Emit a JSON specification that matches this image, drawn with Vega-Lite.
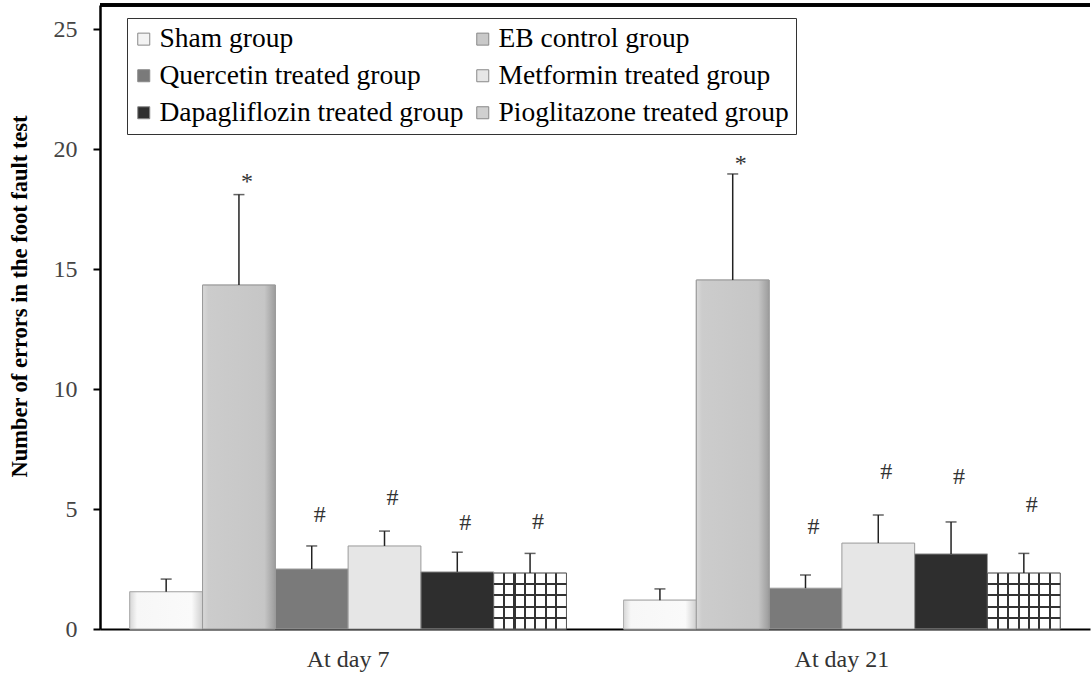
{
  "$schema": "https://vega.github.io/schema/vega-lite/v6.json",
  "width": 990,
  "height": 624,
  "autosize": {"type": "none"},
  "padding": {"left": 100, "top": 5, "right": 1, "bottom": 46},
  "background": "white",
  "config": {"view": {"stroke": null}, "font": "Liberation Serif",
    "style": {"guide-label": {"font": "Liberation Serif"}, "guide-title": {"font": "Liberation Serif"}},
    "legend": {"labelFont": "Liberation Serif"}, "axis": {"labelFont": "Liberation Serif", "titleFont": "Liberation Serif"}},
  "data": {
    "values": [
      {"day": "At day 7", "group": "Sham group", "mean": 1.55, "upper": 2.08, "sig": "", "sig_y": null},
      {"day": "At day 7", "group": "EB control group", "mean": 14.33, "upper": 18.1, "sig": "*", "sig_y": 18.62},
      {"day": "At day 7", "group": "Quercetin treated group", "mean": 2.5, "upper": 3.46, "sig": "#", "sig_y": 4.75},
      {"day": "At day 7", "group": "Metformin treated group", "mean": 3.46, "upper": 4.08, "sig": "#", "sig_y": 5.46},
      {"day": "At day 7", "group": "Dapagliflozin treated group", "mean": 2.38, "upper": 3.2, "sig": "#", "sig_y": 4.42},
      {"day": "At day 7", "group": "Pioglitazone treated group", "mean": 2.33, "upper": 3.15, "sig": "#", "sig_y": 4.46},
      {"day": "At day 21", "group": "Sham group", "mean": 1.2, "upper": 1.67, "sig": "", "sig_y": null},
      {"day": "At day 21", "group": "EB control group", "mean": 14.54, "upper": 18.96, "sig": "*", "sig_y": 19.38},
      {"day": "At day 21", "group": "Quercetin treated group", "mean": 1.7, "upper": 2.25, "sig": "#", "sig_y": 4.25},
      {"day": "At day 21", "group": "Metformin treated group", "mean": 3.58, "upper": 4.75, "sig": "#", "sig_y": 6.54},
      {"day": "At day 21", "group": "Dapagliflozin treated group", "mean": 3.13, "upper": 4.46, "sig": "#", "sig_y": 6.33},
      {"day": "At day 21", "group": "Pioglitazone treated group", "mean": 2.33, "upper": 3.15, "sig": "#", "sig_y": 5.17}
    ]
  },
  "layer": [
    {
      "mark": {"type": "bar", "stroke": "#9a9a9a", "strokeWidth": 1},
      "encoding": {
        "x": {"field": "day", "type": "nominal", "sort": ["At day 7", "At day 21"],
          "scale": {"paddingInner": 0.1156, "paddingOuter": 0.0603},
          "axis": {"title": null, "labelAngle": 0, "labelFont": "Liberation Serif", "labelFontSize": 24, "labelColor": "#333333", "ticks": false, "labelPadding": 18, "domainColor": "black", "domainWidth": 2}},
        "xOffset": {"field": "group", "type": "nominal",
          "sort": ["Sham group", "EB control group", "Quercetin treated group", "Metformin treated group", "Dapagliflozin treated group", "Pioglitazone treated group"],
          "scale": {"paddingInner": 0, "paddingOuter": 0}},
        "y": {"field": "mean", "type": "quantitative", "title": "Number of errors in the foot fault test",
          "scale": {"domain": [0, 26], "nice": false},
          "axis": {"values": [0, 5, 10, 15, 20, 25], "grid": false, "tickSize": 7, "tickWidth": 2, "tickColor": "black",
            "domainColor": "black", "domainWidth": 2.5, "labelFont": "Liberation Serif", "labelFontSize": 24, "labelColor": "#444444",
            "labelPadding": 16, "titleFont": "Liberation Serif", "titleFontWeight": "bold", "titleFontSize": 22.5, "titleColor": "black",
            "titleX": -69, "titleY": 291}},
        "color": {"field": "group", "type": "nominal",
          "scale": {"domain": ["Sham group", "Quercetin treated group", "Dapagliflozin treated group", "EB control group", "Metformin treated group", "Pioglitazone treated group"],
            "range": ["#f3f3f3", "#7a7a7a", "#2e2e2e", "#c9c9c9", "#e6e6e6", "#d0d0d0"]},
          "legend": {"title": null, "orient": "none", "legendX": 27, "legendY": 13, "columns": 2, "strokeColor": "#333333",
            "fillColor": "white", "padding": 7, "symbolType": "square", "symbolSize": 144, "symbolOffset": -4, "symbolStrokeColor": "#888888", "symbolStrokeWidth": 1,
            "labelFont": "Liberation Serif", "labelFontSize": 27.5, "labelColor": "black", "labelLimit": 500, "rowPadding": 8, "columnPadding": 9, "labelOffset": 2,
            "encode": {"labels": {"update": {"font": {"value": "Liberation Serif"}}}}}}
      }
    },
    {
      "transform": [{"filter": "datum.group === 'Sham group'"}],
      "mark": {"type": "bar", "stroke": "#b0b0b0", "strokeWidth": 1,
        "color": {"gradient": "linear", "x1": 0, "y1": 0, "x2": 1, "y2": 0, "stops": [
          {"offset": 0, "color": "#d6d6d6"}, {"offset": 0.1, "color": "#f7f7f7"}, {"offset": 0.85, "color": "#fafafa"}, {"offset": 1, "color": "#cfcfcf"}]}},
      "encoding": {
        "x": {"field": "day", "type": "nominal", "sort": ["At day 7", "At day 21"]},
        "xOffset": {"field": "group", "type": "nominal", "sort": ["Sham group", "EB control group", "Quercetin treated group", "Metformin treated group", "Dapagliflozin treated group", "Pioglitazone treated group"]},
        "y": {"field": "mean", "type": "quantitative", "title": "Number of errors in the foot fault test"}
      }
    },
    {
      "transform": [{"filter": "datum.group === 'EB control group'"}],
      "mark": {"type": "bar", "stroke": "#9a9a9a", "strokeWidth": 1,
        "color": {"gradient": "linear", "x1": 0, "y1": 0, "x2": 1, "y2": 0, "stops": [
          {"offset": 0, "color": "#d9d9d9"}, {"offset": 0.08, "color": "#cccccc"}, {"offset": 0.85, "color": "#c6c6c6"}, {"offset": 1, "color": "#9c9c9c"}]}},
      "encoding": {
        "x": {"field": "day", "type": "nominal", "sort": ["At day 7", "At day 21"]},
        "xOffset": {"field": "group", "type": "nominal", "sort": ["Sham group", "EB control group", "Quercetin treated group", "Metformin treated group", "Dapagliflozin treated group", "Pioglitazone treated group"]},
        "y": {"field": "mean", "type": "quantitative", "title": "Number of errors in the foot fault test"}
      }
    },
    {
      "transform": [{"filter": "datum.group === 'Pioglitazone treated group'"}],
      "mark": {"type": "bar", "stroke": "#555555", "strokeWidth": 1,
        "color": {"gradient": "linear", "x1": 0, "y1": 0, "x2": 1, "y2": 0, "stops": [
          {"offset": 0, "color": "#ffffff"},
          {"offset": 0.129, "color": "#ffffff"}, {"offset": 0.129, "color": "#333333"}, {"offset": 0.157, "color": "#333333"}, {"offset": 0.157, "color": "#ffffff"},
          {"offset": 0.272, "color": "#ffffff"}, {"offset": 0.272, "color": "#333333"}, {"offset": 0.300, "color": "#333333"}, {"offset": 0.300, "color": "#ffffff"},
          {"offset": 0.415, "color": "#ffffff"}, {"offset": 0.415, "color": "#333333"}, {"offset": 0.443, "color": "#333333"}, {"offset": 0.443, "color": "#ffffff"},
          {"offset": 0.557, "color": "#ffffff"}, {"offset": 0.557, "color": "#333333"}, {"offset": 0.585, "color": "#333333"}, {"offset": 0.585, "color": "#ffffff"},
          {"offset": 0.700, "color": "#ffffff"}, {"offset": 0.700, "color": "#333333"}, {"offset": 0.728, "color": "#333333"}, {"offset": 0.728, "color": "#ffffff"},
          {"offset": 0.843, "color": "#ffffff"}, {"offset": 0.843, "color": "#333333"}, {"offset": 0.871, "color": "#333333"}, {"offset": 0.871, "color": "#ffffff"},
          {"offset": 1, "color": "#ffffff"}]}},
      "encoding": {
        "x": {"field": "day", "type": "nominal", "sort": ["At day 7", "At day 21"]},
        "xOffset": {"field": "group", "type": "nominal", "sort": ["Sham group", "EB control group", "Quercetin treated group", "Metformin treated group", "Dapagliflozin treated group", "Pioglitazone treated group"]},
        "y": {"field": "mean", "type": "quantitative", "title": "Number of errors in the foot fault test"}
      }
    },
    {
      "transform": [{"filter": "datum.group === 'Pioglitazone treated group'"}],
      "mark": {"type": "bar", "strokeWidth": 0,
        "color": {"gradient": "linear", "x1": 0, "y1": 0, "x2": 0, "y2": 1, "stops": [
          {"offset": 0, "color": "rgba(0,0,0,0)"},
          {"offset": 0.182, "color": "rgba(0,0,0,0)"}, {"offset": 0.182, "color": "#333333"}, {"offset": 0.218, "color": "#333333"}, {"offset": 0.218, "color": "rgba(0,0,0,0)"},
          {"offset": 0.382, "color": "rgba(0,0,0,0)"}, {"offset": 0.382, "color": "#333333"}, {"offset": 0.418, "color": "#333333"}, {"offset": 0.418, "color": "rgba(0,0,0,0)"},
          {"offset": 0.582, "color": "rgba(0,0,0,0)"}, {"offset": 0.582, "color": "#333333"}, {"offset": 0.618, "color": "#333333"}, {"offset": 0.618, "color": "rgba(0,0,0,0)"},
          {"offset": 0.782, "color": "rgba(0,0,0,0)"}, {"offset": 0.782, "color": "#333333"}, {"offset": 0.818, "color": "#333333"}, {"offset": 0.818, "color": "rgba(0,0,0,0)"},
          {"offset": 1, "color": "rgba(0,0,0,0)"}]}},
      "encoding": {
        "x": {"field": "day", "type": "nominal", "sort": ["At day 7", "At day 21"]},
        "xOffset": {"field": "group", "type": "nominal", "sort": ["Sham group", "EB control group", "Quercetin treated group", "Metformin treated group", "Dapagliflozin treated group", "Pioglitazone treated group"]},
        "y": {"field": "mean", "type": "quantitative", "title": "Number of errors in the foot fault test"}
      }
    },
    {
      "mark": {"type": "rule", "color": "#222222", "strokeWidth": 1.5},
      "encoding": {
        "x": {"field": "day", "type": "nominal", "sort": ["At day 7", "At day 21"]},
        "xOffset": {"field": "group", "type": "nominal", "sort": ["Sham group", "EB control group", "Quercetin treated group", "Metformin treated group", "Dapagliflozin treated group", "Pioglitazone treated group"]},
        "y": {"field": "mean", "type": "quantitative", "title": "Number of errors in the foot fault test"},
        "y2": {"field": "upper"}
      }
    },
    {
      "mark": {"type": "tick", "color": "#222222", "thickness": 1.5, "size": 11},
      "encoding": {
        "x": {"field": "day", "type": "nominal", "sort": ["At day 7", "At day 21"]},
        "xOffset": {"field": "group", "type": "nominal", "sort": ["Sham group", "EB control group", "Quercetin treated group", "Metformin treated group", "Dapagliflozin treated group", "Pioglitazone treated group"]},
        "y": {"field": "upper", "type": "quantitative", "title": "Number of errors in the foot fault test"}
      }
    },
    {
      "mark": {"type": "text", "font": "Liberation Serif", "fontSize": 24, "dx": 8, "color": "#333333", "baseline": "middle"},
      "encoding": {
        "x": {"field": "day", "type": "nominal", "sort": ["At day 7", "At day 21"]},
        "xOffset": {"field": "group", "type": "nominal", "sort": ["Sham group", "EB control group", "Quercetin treated group", "Metformin treated group", "Dapagliflozin treated group", "Pioglitazone treated group"]},
        "y": {"field": "sig_y", "type": "quantitative", "title": "Number of errors in the foot fault test"},
        "text": {"field": "sig"}
      }
    },
    {
      "mark": {"type": "rule", "color": "black", "strokeWidth": 2.5},
      "encoding": {
        "y": {"datum": 26}
      }
    }
  ]
}
